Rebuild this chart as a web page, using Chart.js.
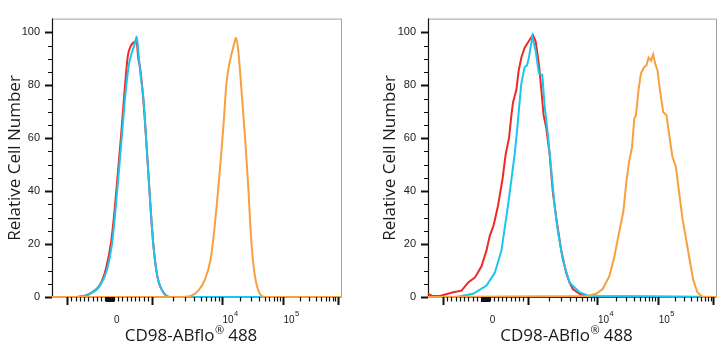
<!DOCTYPE html>
<html>
<head>
<meta charset="utf-8">
<script src="https://cdn.jsdelivr.net/npm/chart.js@4.4.1/dist/chart.umd.min.js"></script>
<style>
  html, body { margin: 0; padding: 0; background: #fff; }
  #wrap { position: relative; width: 725px; height: 350px; overflow: hidden; }
  canvas { position: absolute; top: 0; }
  #leftChart { left: 0; }
  #rightChart { left: 362px; }
</style>
</head>
<body>
<div id="wrap">
  <canvas id="leftChart" width="362" height="350"></canvas>
  <canvas id="rightChart" width="363" height="350"></canvas>
</div>
<script>
// Histogram data, x in display channels (0-290 across the plot), y in % of max

// Left panel
const leftRedX = [0, 25, 38, 48, 54, 59, 62.5, 66, 69.3, 72.5, 75.8, 79, 82, 84.5, 86.3, 88, 91.3, 94.7, 98, 101.3, 105.3, 111.3, 118, 290];
const leftRedY = [0, 0, 1.3, 4.6, 10.8, 20.5, 32.5, 47.5, 62, 77.5, 91, 95, 96.3, 96.8, 90, 86.9, 74.7, 56.5, 37, 20, 7.9, 1.8, 0, 0];
const leftCyanX = [0, 25, 38, 48, 55, 60, 63.3, 66.7, 70, 73.5, 77, 80, 83, 84.7, 86.5, 88.5, 91.3, 94.7, 98, 101.3, 105.3, 111.3, 118, 290];
const leftCyanY = [0, 0, 1.2, 4.3, 10.3, 20, 32, 46.8, 61.4, 77, 88, 92.5, 96, 98.4, 92, 84, 75.5, 56.5, 37, 20, 7.9, 1.8, 0, 0];
const leftOrangeX = [0, 128, 138, 146.3, 153, 158.5, 161.5, 165.3, 168.7, 171.5, 174.5, 178, 182, 184, 186.3, 189.7, 193.5, 196.5, 198.8, 202, 207, 213, 290];
const leftOrangeY = [0, 0, 0.3, 2.4, 6.7, 14, 22.5, 37, 51.6, 65, 81, 89.3, 95.4, 98, 93, 77, 58, 40, 24, 10.3, 1.8, 0, 0];

// Right panel
const rightRedX = [0, 4, 12, 25.3, 33.7, 40.3, 47, 53.7, 58.7, 62, 66, 70.3, 74.7, 78, 81.3, 83.7, 85.3, 88.7, 91, 93.7, 97, 102, 105.3, 108, 111.3, 113.7, 116, 118.7, 122, 125.3, 128.7, 133.7, 138.7, 142, 145.3, 152, 160, 290];
const rightRedY = [1.2, 0.5, 0.4, 1.8, 2.4, 5.5, 7.3, 11.6, 17.6, 23.1, 27.3, 34.6, 44.4, 54.1, 60.1, 68.7, 73.5, 78.4, 85.6, 90.5, 94.2, 97.2, 99, 96.6, 88, 78.4, 68.7, 63.8, 54.1, 39.5, 29.8, 17.6, 9.1, 5.5, 3, 1.2, 0.3, 0];
const rightCyanX = [0, 28.7, 45.3, 58.7, 67, 73.7, 77, 80.3, 83.7, 87, 89.3, 91.3, 93.7, 97, 99.3, 101.3, 104.7, 108, 111.3, 114.7, 117, 120.3, 123.7, 127, 130.3, 135.3, 142, 152, 162, 290];
const rightCyanY = [0, 0, 1.2, 4.3, 9.1, 17.6, 26.1, 34.6, 44.4, 54.1, 62.6, 71.1, 80.8, 86.9, 87.5, 90.5, 98.4, 93, 84.5, 83.9, 72.3, 61.4, 48, 34.6, 24.9, 14, 5.5, 1.8, 0.3, 0];
const rightOrangeX = [0, 160, 168.7, 175.3, 182, 187, 192, 196, 199.3, 202, 204.7, 207, 208.7, 211.3, 213.7, 217, 219.3, 221.3, 223.7, 226, 228, 230.3, 232.7, 236, 239.3, 242, 245.3, 248.7, 252, 255.3, 258.7, 262, 266, 270.3, 275.3, 290];
const rightOrangeY = [0, 0.4, 1.2, 3, 7.9, 15.2, 24.9, 32.2, 44.4, 51.6, 56.5, 67.4, 68.7, 78.4, 84.5, 86.9, 87.5, 90.5, 89.3, 91.7, 88.1, 85.6, 78.4, 69.9, 68.7, 61.4, 52.9, 49.2, 39.5, 29.8, 22.5, 15.2, 6.7, 1.8, 0, 0];

// Axis ticks
const yTickValues = [0, 20, 40, 60, 80, 100];
const xMajorTicks = [-1000, 1000, 1e4, 1e5, 1e6];
const xMinorTicks = [-900, -800, -700, -600, -500, -400, -300, -200, -100,
  100, 200, 300, 400, 500, 600, 700, 800, 900,
  2000, 3000, 4000, 5000, 6000, 7000, 8000, 9000,
  2e4, 3e4, 4e4, 5e4, 6e4, 7e4, 8e4, 9e4,
  2e5, 3e5, 4e5, 5e5, 6e5, 7e5, 8e5, 9e5];
const xFineTicks = [-90, -80, -70, -60, -50, -40, -30, -20, -10, 0, 10, 20, 30, 40, 50, 60, 70, 80, 90];
const xLabelValues = [0, 1e4, 1e5];
const xLabelBase = ['0', '10', '10'];
const xLabelExp = ['', '4', '5'];

const xTitle = ['CD98-ABflo', '®', ' 488'];
const yTitle = 'Relative Cell Number';

const RED = '#ee2a24';
const CYAN = '#1cc4ee';
const ORANGE = '#f7a040';

// biexponential-ish display transform used for the tick marks
function channelOf(v) {
  if (v <= 1000) return 57.5 + v * 0.0425;
  if (v <= 1e4) return 100 + 70 * Math.log10(v / 1e3);
  if (v <= 1e5) return 170 + 61 * Math.log10(v / 1e4);
  return 231 + 55 * Math.log10(v / 1e5);
}

function pts(xs, ys) {
  return xs.map((x, i) => ({ x: x, y: ys[i] }));
}

const cytoAxes = {
  id: "cytoAxes",
  beforeDatasetsDraw(chart) {
    const { ctx, chartArea: a } = chart;
    ctx.save();
    ctx.strokeStyle = "#a0a0a0";
    ctx.lineWidth = 1;
    ctx.beginPath();
    ctx.moveTo(a.left, a.top + 0.5);
    ctx.lineTo(a.right - 0.5, a.top + 0.5);
    ctx.lineTo(a.right - 0.5, a.bottom);
    ctx.stroke();
    ctx.strokeStyle = "#111";
    ctx.lineWidth = 1.2;
    ctx.beginPath();
    ctx.moveTo(a.left + 0.5, a.top);
    ctx.lineTo(a.left + 0.5, a.bottom + 0.5);
    ctx.lineTo(a.right, a.bottom + 0.5);
    ctx.stroke();
    ctx.restore();
  },
  afterDraw(chart, args, opts) {
    const { ctx, chartArea: a, scales } = chart;
    const x = scales.x, y = scales.y;
    ctx.save();
    ctx.strokeStyle = "#111";

    // y ticks, minor every 5
    for (let v = 0; v <= 100; v += 5) {
      const py = Math.round(y.getPixelForValue(v)) + 0.5;
      const major = v % 20 === 0;
      ctx.lineWidth = major ? 2 : 1;
      ctx.beginPath();
      ctx.moveTo(a.left - (major ? 7 : 4), py);
      ctx.lineTo(a.left, py);
      ctx.stroke();
    }

    // x ticks
    const tick = (v, len, w) => {
      const px = Math.round(x.getPixelForValue(channelOf(v))) + 0.5;
      if (px < a.left - 1 || px > a.right + 1) return;
      ctx.lineWidth = w;
      ctx.beginPath();
      ctx.moveTo(px, a.bottom);
      ctx.lineTo(px, a.bottom + len);
      ctx.stroke();
    };
    xFineTicks.forEach(v => tick(v, 5, 1));
    xMinorTicks.forEach(v => tick(v, 4.5, 1.2));
    xMajorTicks.forEach(v => tick(v, 8, 2));

    // x tick labels with superscripts
    ctx.fillStyle = "#222";
    ctx.textBaseline = "middle";
    ctx.textAlign = "left";
    xLabelValues.forEach((v, i) => {
      let px = x.getPixelForValue(channelOf(v));
      px += xLabelExp[i] ? 0.5 : 4.5;
      ctx.font = "10px 'Liberation Sans', Arial, sans-serif";
      ctx.fillText(xLabelBase[i], px, 320);
      if (xLabelExp[i]) {
        const w = ctx.measureText(xLabelBase[i]).width;
        ctx.font = "7.5px 'Liberation Sans', Arial, sans-serif";
        ctx.fillText(xLabelExp[i], px + w + 0.5, 314);
      }
    });

    // x title with raised registered mark
    ctx.fillStyle = "#1a1a1a";
    const big = "17px 'Open Sans', 'Noto Sans', sans-serif";
    const small = "11px 'Open Sans', 'Noto Sans', sans-serif";
    ctx.font = big;
    const w0 = ctx.measureText(xTitle[0]).width;
    const w2 = ctx.measureText(xTitle[2]).width;
    ctx.font = small;
    const w1 = ctx.measureText(xTitle[1]).width;
    const cx = (a.left + a.right) / 2 - 6;
    let tx = cx - (w0 + w1 + w2) / 2;
    ctx.font = big;
    ctx.fillText(xTitle[0], tx, 336);
    tx += w0;
    ctx.font = small;
    ctx.fillText(xTitle[1], tx + 0.5, 331);
    tx += w1;
    ctx.font = big;
    ctx.fillText(xTitle[2], tx, 336);

    // y title
    ctx.translate(opts.yTitleX, 158);
    ctx.rotate(-Math.PI / 2);
    ctx.textAlign = "center";
    ctx.font = big;
    ctx.fillText(yTitle, 0, 0);
    ctx.restore();
  },
};

function makeChart(id, series, yWidth, padRight, yTitleX, smooth) {
  const ctx = document.getElementById(id).getContext("2d");
  return new Chart(ctx, {
    type: "line",
    data: {
      datasets: series.map(s => ({
        data: pts(s[0], s[1]),
        borderColor: s[2],
        borderWidth: 2,
        pointRadius: 0,
        fill: false,
        cubicInterpolationMode: smooth ? "monotone" : "default",
        tension: 0,
        clip: 3,
      })),
    },
    options: {
      responsive: false,
      animation: false,
      devicePixelRatio: 1,
      events: [],
      layout: { padding: { top: 8, right: padRight, left: 0, bottom: 0 } },
      plugins: {
        legend: { display: false },
        tooltip: { enabled: false },
        cytoAxes: { yTitleX: yTitleX },
      },
      scales: {
        x: {
          type: "linear",
          min: 0,
          max: 290,
          grid: { display: false, drawTicks: false },
          border: { display: false },
          ticks: { display: false },
          afterFit: (scale) => { scale.height = 53; },
        },
        y: {
          type: "linear",
          min: 0,
          max: 105.2,
          grid: { display: false, drawTicks: false },
          border: { display: false },
          afterBuildTicks: (scale) => {
            scale.ticks = yTickValues.map(v => ({ value: v }));
          },
          ticks: {
            padding: 12,
            color: "#222",
            font: { family: "'Liberation Sans', Arial, sans-serif", size: 11 },
          },
          afterFit: (scale) => { scale.width = yWidth; },
        },
      },
    },
    plugins: [cytoAxes],
  });
}

// orange listed first so it draws on top, then cyan, then red
makeChart("leftChart", [
  [leftOrangeX, leftOrangeY, ORANGE],
  [leftCyanX, leftCyanY, CYAN],
  [leftRedX, leftRedY, RED],
], 52, 20, 15, true);

makeChart("rightChart", [
  [rightOrangeX, rightOrangeY, ORANGE],
  [rightCyanX, rightCyanY, CYAN],
  [rightRedX, rightRedY, RED],
], 66, 8, 28, false);
</script>
</body>
</html>
